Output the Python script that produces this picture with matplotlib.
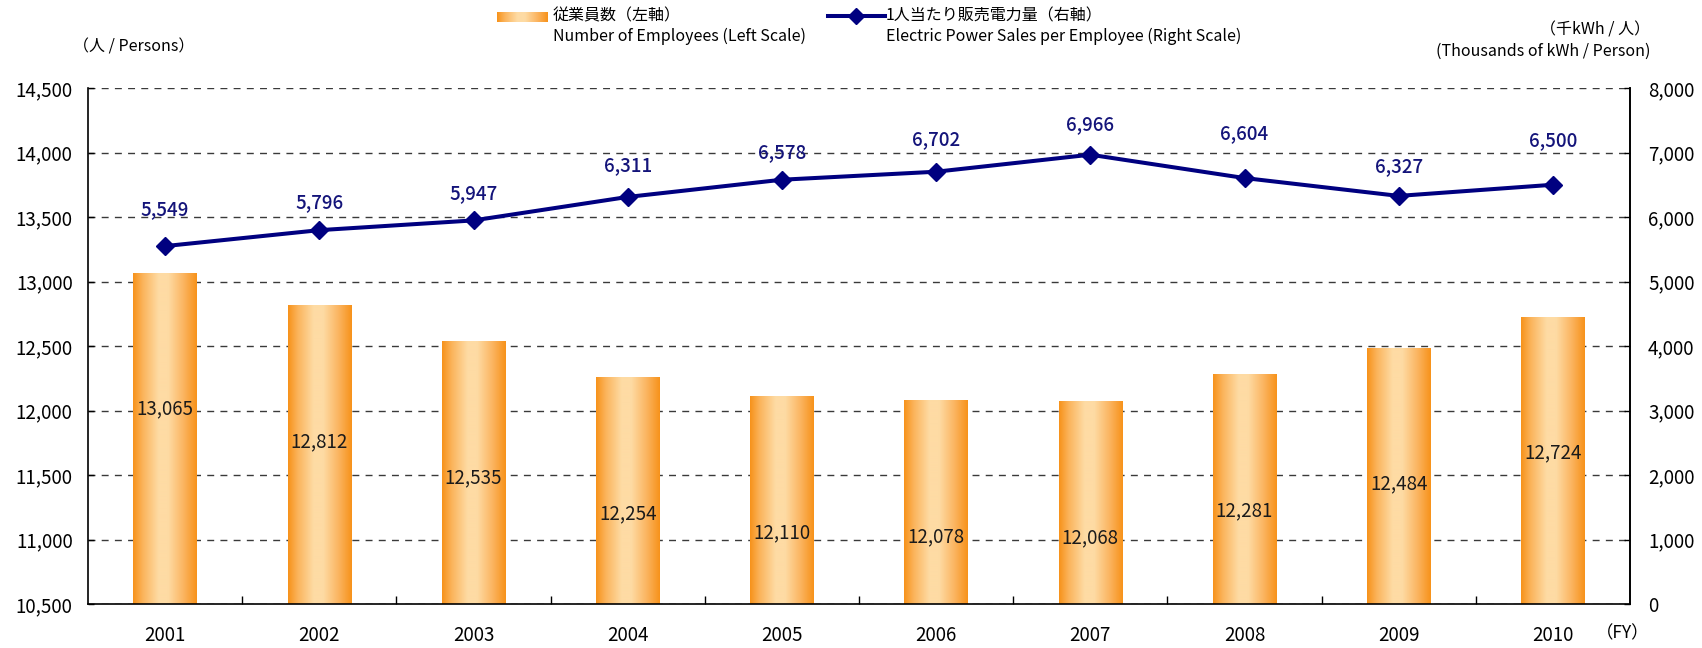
import matplotlib
matplotlib.use('Agg')
import matplotlib.pyplot as plt
import numpy as np
from matplotlib.colors import LinearSegmentedColormap
from matplotlib.lines import Line2D
from matplotlib.ticker import FuncFormatter, FixedLocator

plt.rcParams['font.family'] = ['Noto Sans CJK JP', 'DejaVu Sans']

# ---------------- data ----------------
years = ['2001', '2002', '2003', '2004', '2005', '2006', '2007', '2008', '2009', '2010']
employees = [13065, 12812, 12535, 12254, 12110, 12078, 12068, 12281, 12484, 12724]
sales_per_employee = [5549, 5796, 5947, 6311, 6578, 6702, 6966, 6604, 6327, 6500]
left_ticks = [10500, 11000, 11500, 12000, 12500, 13000, 13500, 14000, 14500]
right_ticks = [0, 1000, 2000, 3000, 4000, 5000, 6000, 7000, 8000]

legend_bar_jp = '従業員数（左軸）'
legend_bar_en = 'Number of Employees (Left Scale)'
legend_line_jp = '1人当たり販売電力量（右軸）'
legend_line_en = 'Electric Power Sales per Employee (Right Scale)'
left_unit = '（人 / Persons）'
right_unit_jp = '（千kWh / 人）'
right_unit_en = '(Thousands of kWh / Person)'
fy_label = '（FY）'

# label offsets above markers (points) - layout only
line_label_dy = [26.6, 20.2, 19.4, 22.3, 19.4, 23.0, 21.6, 31.7, 20.9, 31.7]

# ---------------- styles ----------------
NAVY = '#000080'
LABEL_NAVY = '#14147a'
grad_cmap = LinearSegmentedColormap.from_list(
    'bar', [(0.0, '#F7921A'), (0.15, '#FBB35A'), (0.4, '#FEDBA4'),
            (0.55, '#FEDBA4'), (0.8, '#FBB35E'), (1.0, '#F7921A')])

W, H = 1702, 648
fig = plt.figure(figsize=(W / 100, H / 100), dpi=100)
L, R, T, B = 88, 1630, 88, 604
ax = fig.add_axes([L / W, 1 - B / H, (R - L) / W, (B - T) / H])

x = np.arange(len(years))
fmt = FuncFormatter(lambda v, p: f'{int(v):,}')

# gridlines
ax.set_axisbelow(True)
ax.yaxis.grid(True, color='#3a3a3a', lw=1.0, ls=(0, (5, 4.5)))

# bars (invisible patches, filled by gradient images)
bars = ax.bar(x, employees, width=0.41, color='none', edgecolor='none', zorder=2)
ax.set_xlim(-0.5, len(years) - 0.5)
ax.set_ylim(left_ticks[0], left_ticks[-1])
grad = np.linspace(0, 1, 256).reshape(1, -1)
for p in bars:
    x0 = p.get_x()
    x1 = x0 + p.get_width()
    y0 = max(p.get_y(), left_ticks[0])
    y1 = p.get_y() + p.get_height()
    ax.imshow(grad, extent=[x0, x1, y0, y1], aspect='auto', cmap=grad_cmap,
              interpolation='bilinear', zorder=2)
ax.set_xlim(-0.5, len(years) - 0.5)
ax.set_ylim(left_ticks[0], left_ticks[-1])

for xi, v in zip(x, employees):
    ax.annotate(f'{v:,}', (xi, v), xytext=(0, -98), textcoords='offset points',
                ha='center', va='center', fontsize=13.5, color='#1a1a1a', zorder=3)

ax.yaxis.set_major_locator(FixedLocator(left_ticks))
ax.yaxis.set_major_formatter(fmt)
ax.set_xticks(x)
ax.set_xticklabels(years)
ax.set_xticks(np.arange(0.5, len(years) - 1, 1.0), minor=True)
ax.tick_params(axis='x', which='major', length=0, pad=15, labelsize=13.5)
ax.tick_params(axis='x', which='minor', direction='in', length=5.5, width=1, color='black')
ax.tick_params(axis='y', which='major', direction='in', length=4, width=1, pad=11, labelsize=13.5)
ax.spines['top'].set_visible(False)
for s in ['left', 'bottom', 'right']:
    ax.spines[s].set_color('black')
    ax.spines[s].set_linewidth(1.2)

# line on right axis
ax2 = ax.twinx()
ax2.set_ylim(right_ticks[0], right_ticks[-1])
ax2.plot(x, sales_per_employee, color=NAVY, lw=2.9, marker='D', ms=9.5,
         markerfacecolor=NAVY, markeredgecolor=NAVY, zorder=5, solid_joinstyle='round')
for xi, v, dy in zip(x, sales_per_employee, line_label_dy):
    ax2.annotate(f'{v:,}', (xi, v), xytext=(0, dy), textcoords='offset points',
                 ha='center', va='center', fontsize=13.5, fontweight='medium',
                 color=LABEL_NAVY, zorder=6)
ax2.yaxis.set_major_locator(FixedLocator(right_ticks))
ax2.yaxis.set_major_formatter(fmt)
ax2.tick_params(axis='y', which='major', direction='in', length=4, width=1, pad=13, labelsize=13.5)
for s in ['top', 'left']:
    ax2.spines[s].set_visible(False)
ax2.spines['right'].set_linewidth(1.2)
ax2.spines['bottom'].set_visible(False)

# ---------------- text / legend ----------------
fig.text(73 / W, 1 - 47 / H, left_unit, ha='left', va='center', fontsize=11.5)
fig.text(1650 / W, 1 - 30 / H, right_unit_jp, ha='right', va='center', fontsize=11.5)
fig.text(1650 / W, 1 - 51 / H, right_unit_en, ha='right', va='center', fontsize=11.5)
fig.text(1596 / W, 1 - 633 / H, fy_label, ha='left', va='center', fontsize=12.5)

# legend: bar swatch
lax = fig.add_axes([497 / W, 1 - 22 / H, 51 / W, 10 / H])
lax.imshow(grad, aspect='auto', cmap=grad_cmap, interpolation='bilinear', extent=[0, 1, 0, 1])
lax.set_axis_off()
fig.text(553 / W, 1 - 16 / H, legend_bar_jp, ha='left', va='center', fontsize=11.5)
fig.text(553 / W, 1 - 36 / H, legend_bar_en, ha='left', va='center', fontsize=11.5)

fig.add_artist(Line2D([828 / W, 885 / W], [1 - 16 / H, 1 - 16 / H], color=NAVY, lw=2.9,
                      transform=fig.transFigure))
fig.add_artist(Line2D([856.5 / W], [1 - 16 / H], color=NAVY, marker='D', ms=8,
                      transform=fig.transFigure))
fig.text(886 / W, 1 - 16 / H, legend_line_jp, ha='left', va='center', fontsize=11.5)
fig.text(886 / W, 1 - 36 / H, legend_line_en, ha='left', va='center', fontsize=11.5)

fig.savefig('out.png', dpi=100)
